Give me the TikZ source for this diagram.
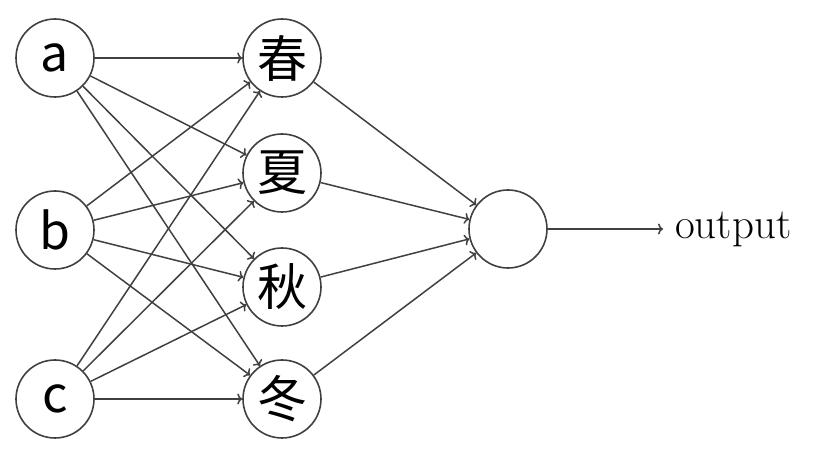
\documentclass[tikz,border=0pt]{standalone}
\usepackage{fontspec}
\usetikzlibrary{arrows.meta}
\newfontfamily\cjk{Noto Sans CJK SC}
\begin{document}
\begin{tikzpicture}[x=1pt,y=1pt,
  neuron/.style={circle,draw=black!75,line width=1.6pt,minimum size=78pt,inner sep=0pt,font=\cjk\fontsize{50}{50}\selectfont},
  conn/.style={draw=black!75,line width=1.5pt,-{To[length=5pt,width=11pt]}}]
\useasboundingbox (0,0) rectangle (814,457);
\node[neuron] (a) at (55,399) {a};
\node[neuron] (b) at (55,227) {b};
\node[neuron] (c) at (55,58) {c};
\node[neuron] (h1) at (282,399) {春};
\node[neuron] (h2) at (282,284) {夏};
\node[neuron] (h3) at (282,170) {秋};
\node[neuron] (h4) at (282,58) {冬};
\node[neuron] (o) at (508,228) {};
\node[anchor=west,inner sep=0pt,font=\fontsize{43}{43}\selectfont] (out) at (675,228) {output};
\coordinate (oe) at (663,228);
\foreach \s in {a,b,c}{
  \foreach \t in {h1,h2,h3,h4}{
    \draw[conn] (\s) -- (\t);
  }
}
\foreach \t in {h1,h2,h3,h4}{
  \draw[conn] (\t) -- (o);
}
\draw[conn] (o) -- (oe);
\end{tikzpicture}
\end{document}
